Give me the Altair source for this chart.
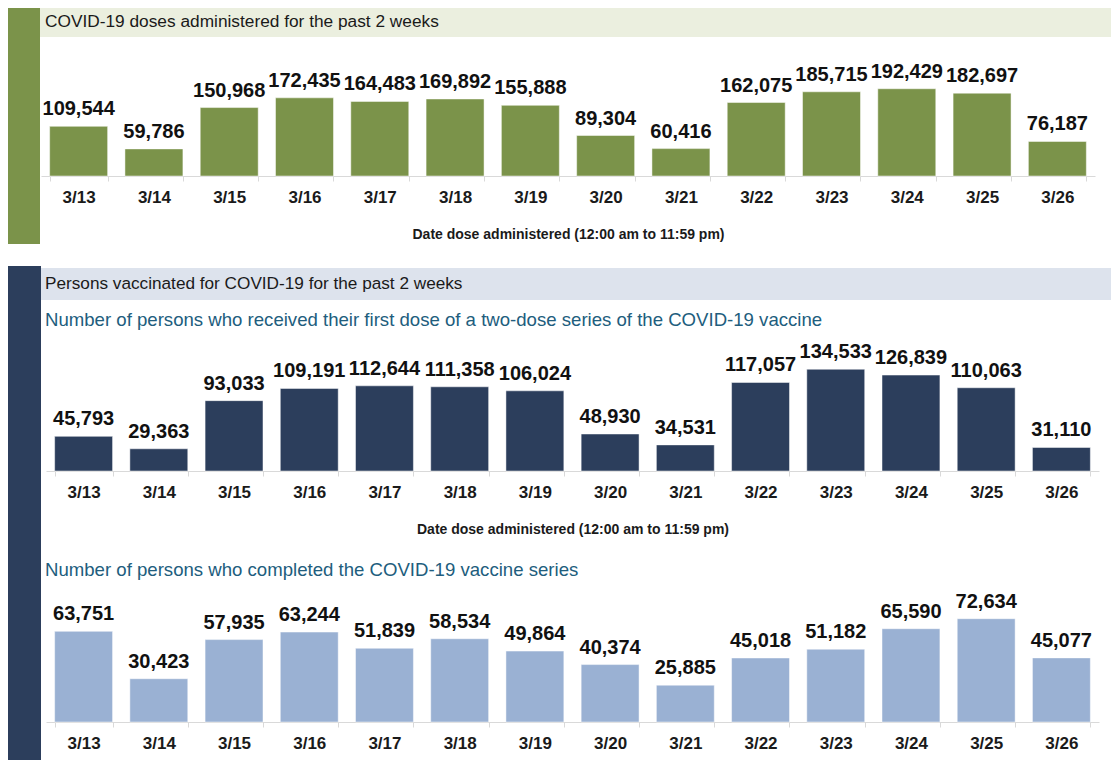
import altair as alt
import pandas as pd

# ---- data ----
dates = ["3/13", "3/14", "3/15", "3/16", "3/17", "3/18", "3/19",
         "3/20", "3/21", "3/22", "3/23", "3/24", "3/25", "3/26"]
doses = [109544, 59786, 150968, 172435, 164483, 169892, 155888,
         89304, 60416, 162075, 185715, 192429, 182697, 76187]
first_dose = [45793, 29363, 93033, 109191, 112644, 111358, 106024,
              48930, 34531, 117057, 134533, 126839, 110063, 31110]
completed = [63751, 30423, 57935, 63244, 51839, 58534, 49864,
             40374, 25885, 45018, 51182, 65590, 72634, 45077]

title_top = "COVID-19 doses administered for the past 2 weeks"
title_mid = "Persons vaccinated for COVID-19 for the past 2 weeks"
sub_first = "Number of persons who received their first dose of a two-dose series of the COVID-19 vaccine"
sub_done = "Number of persons who completed the COVID-19 vaccine series"
axis_title = "Date dose administered (12:00 am to 11:59 pm)"

FONT = "Liberation Sans"
GREEN = "#7b934a"
GREEN_BAND = "#ebefdf"
NAVY = "#2c3e5c"
BLUE_BAND = "#dde3ed"
LIGHT_BLUE = "#9ab1d3"
SUB_COLOR = "#215d7d"
W = 1053

one = alt.Data(values=[{"k": 1}])


def rect(x, x2, y, y2, color):
    return alt.Chart(one).mark_rect(color=color).encode(
        x=alt.value(x), x2=alt.value(x2), y=alt.value(y), y2=alt.value(y2))


def label(x, y, text, size, color):
    return alt.Chart(one).mark_text(
        align="left", baseline="middle", font=FONT, fontSize=size, color=color
    ).encode(x=alt.value(x), y=alt.value(y), text=alt.value(text))


def bars(values, color, ymax, height, xtitle, xrange=None):
    df = pd.DataFrame({"date": dates, "value": values})
    sc = dict(domain=dates, paddingInner=0.23, paddingOuter=0.115)
    if xrange is not None:
        sc["range"] = xrange
    axis = alt.Axis(
        title=xtitle, labelAngle=0, labelFont=FONT, labelFontSize=17,
        labelFontWeight="bold", labelColor="#1a1a1a", domainColor="#d9d9d9",
        tickColor="#d9d9d9", tickSize=5, tickBand="extent", labelPadding=8,
        titleFont=FONT, titleFontSize=14, titleFontWeight="bold",
        titleColor="#1a1a1a", titlePadding=22)
    base = alt.Chart(alt.Data(values=df.to_dict("records"))).encode(
        x=alt.X("date:N", sort=dates, scale=alt.Scale(**sc), axis=axis),
        y=alt.Y("value:Q", scale=alt.Scale(domain=[0, ymax]), axis=None),
    )
    b = base.mark_bar(color=color, stroke="#ffffff", strokeWidth=0.8, strokeOpacity=0.6)
    t = base.mark_text(baseline="alphabetic", dy=-11, font=FONT, fontSize=20,
                       fontWeight="bold", color="#111111").encode(
        text=alt.Text("value:Q", format=","))
    return b, t


# panel 1 (origin page x 46, y 40)
b1, t1 = bars(doses, GREEN, 300000, 136, axis_title, xrange=[-5, 1049])
p1 = alt.layer(
    rect(-38, -6, -32, 204, GREEN),
    rect(-6, 1065, -32, -3, GREEN_BAND),
    label(-1, -18, title_top, 17.3, "#1a1a1a"),
    b1, t1,
).properties(width=W, height=136)

# panel 2 (origin page y 350)
b2, t2 = bars(first_dose, NAVY, 160000, 121, axis_title)
p2 = alt.layer(
    rect(-38, -37, -106, -84, "#ffffff"),
    rect(-38, -5, -84, 200, NAVY),
    rect(-5, 1065, -82, -50, BLUE_BAND),
    label(-1, -66, title_mid, 17.2, "#1a1a1a"),
    label(-1, -30, sub_first, 18.6, SUB_COLOR),
    b2, t2,
).properties(width=W, height=121)

# panel 3 (origin page y 594)
b3, t3 = bars(completed, LIGHT_BLUE, 90000, 128, None)
p3 = alt.layer(
    rect(-38, -5, -44, 166, NAVY),
    label(-1, -24, sub_done, 18.6, SUB_COLOR),
    b3, t3,
).properties(width=W, height=128)

chart = alt.vconcat(p1, p2, p3, spacing=0).properties(
    padding=0, background="white"
).configure_view(stroke=None)

chart.save("out.html", embed_options={"renderer": "svg", "actions": False})
